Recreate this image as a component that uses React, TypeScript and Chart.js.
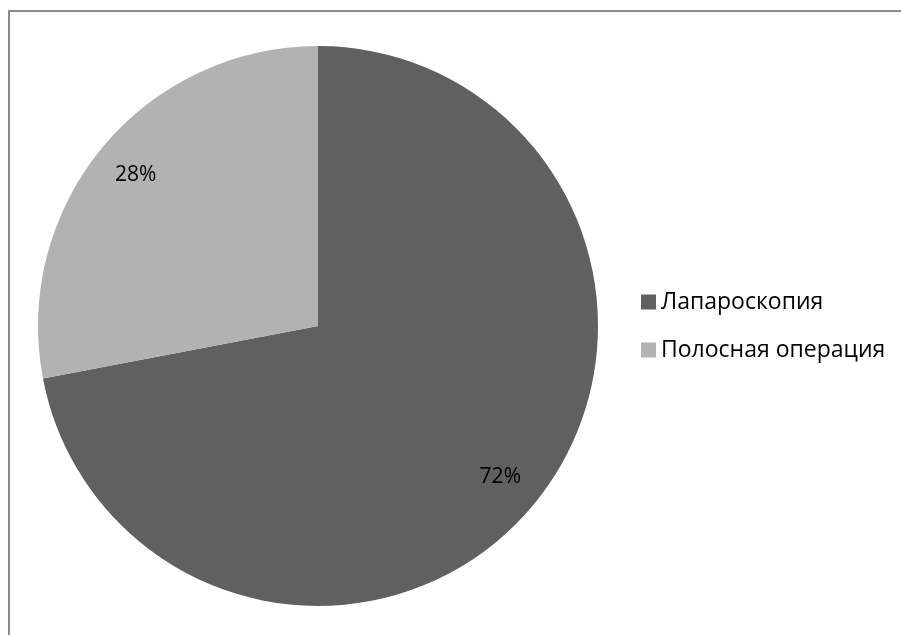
import React, { useEffect, useRef } from "react";
import { Chart, registerables } from "chart.js";

Chart.register(...registerables);

const categories = ["Лапароскопия", "Полосная операция"];
const shares = [72, 28];
const sliceColors = ["#606060", "#b2b2b2"];

const FONT = "'Open Sans', 'Noto Sans', sans-serif";

const labelPlugin = {
  id: "sliceLabels",
  afterDatasetsDraw(chart: any) {
    const ctx = chart.ctx;
    const meta = chart.getDatasetMeta(0);
    const data = chart.data.datasets[0].data as number[];
    const total = data.reduce((a: number, b: number) => a + b, 0);
    ctx.save();
    ctx.font = `21px ${FONT}`;
    ctx.fillStyle = "#000";
    ctx.textAlign = "center";
    ctx.textBaseline = "middle";
    meta.data.forEach((arc: any, i: number) => {
      const p = arc.getProps(["x", "y", "startAngle", "endAngle", "outerRadius"], true);
      const mid = (p.startAngle + p.endAngle) / 2;
      const r = p.outerRadius * 0.845;
      const pct = Math.round((data[i] / total) * 100) + "%";
      ctx.fillText(pct, p.x + Math.cos(mid) * r, p.y + Math.sin(mid) * r);
    });
    ctx.restore();
  },
};

const legendPlugin = {
  id: "sideLegend",
  afterDraw(chart: any) {
    const ctx = chart.ctx;
    const area = chart.chartArea;
    const cy = (area.top + area.bottom) / 2;
    const x0 = area.right + 43;
    const gap = 48;
    const labels = chart.data.labels as string[];
    const colors = chart.data.datasets[0].backgroundColor as string[];
    const n = labels.length;
    ctx.save();
    ctx.font = `23px ${FONT}`;
    ctx.textBaseline = "middle";
    ctx.textAlign = "left";
    labels.forEach((lab, i) => {
      const y = cy + (i - (n - 1) / 2) * gap;
      ctx.fillStyle = colors[i];
      ctx.fillRect(x0, y - 7.5, 15, 15);
      ctx.fillStyle = "#000";
      ctx.fillText(lab, x0 + 20, y);
    });
    ctx.restore();
  },
};

export default function App() {
  const ref = useRef<HTMLCanvasElement | null>(null);
  useEffect(() => {
    if (!ref.current) return;
    const chart = new Chart(ref.current, {
      type: "pie",
      data: {
        labels: categories,
        datasets: [
          {
            data: shares,
            backgroundColor: sliceColors,
            borderWidth: 0,
          },
        ],
      },
      options: {
        responsive: false,
        animation: false,
        devicePixelRatio: 1,
        layout: { padding: { left: 38, top: 46, right: 303, bottom: 29 } },
        plugins: {
          legend: { display: false },
          tooltip: { enabled: false },
        },
      },
      plugins: [labelPlugin, legendPlugin],
    });
    return () => chart.destroy();
  }, []);

  return (
    <>
      <div
        style={{
          position: "fixed",
          left: 8,
          top: 10,
          width: 1200,
          height: 1200,
          borderTop: "2px solid #8a8a8a",
          borderLeft: "2px solid #8a8a8a",
          boxSizing: "border-box",
        }}
      />
      <canvas
        ref={ref}
        width={901}
        height={635}
        style={{ position: "fixed", left: 0, top: 0, width: 901, height: 635 }}
      />
    </>
  );
}
